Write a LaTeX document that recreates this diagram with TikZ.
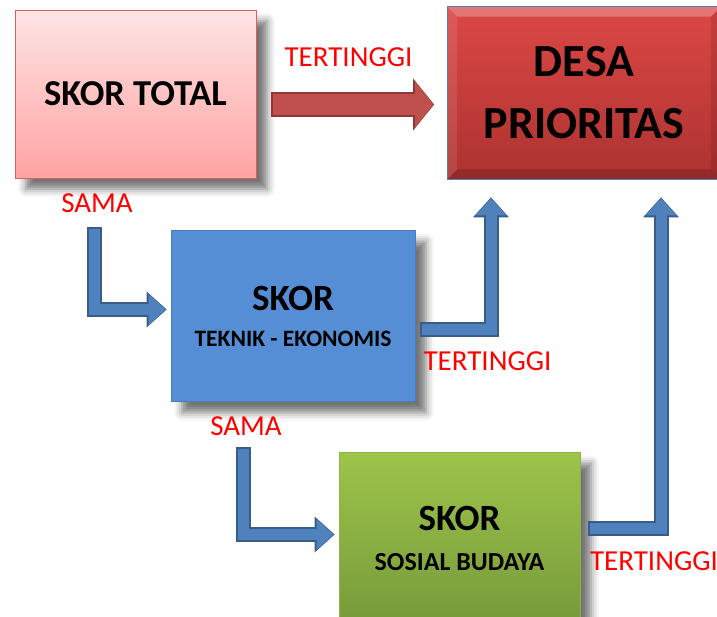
\documentclass[tikz,border=0pt]{standalone}
\usepackage{fontspec}
\setmainfont{Carlito}
\usetikzlibrary{arrows.meta, positioning, calc, shadows.blur}
\definecolor{pinktop}{HTML}{FFE4E4}
\definecolor{pinkbot}{HTML}{FFA3A3}
\definecolor{pinkedge}{HTML}{D9605E}
\definecolor{desatop}{HTML}{DC4846}
\definecolor{desabot}{HTML}{AC3230}
\definecolor{desaedge}{HTML}{4F81BD}
\definecolor{tekfill}{HTML}{558ED5}
\definecolor{tekedge}{HTML}{4A7EBB}
\definecolor{sostop}{HTML}{9DC44A}
\definecolor{sosbot}{HTML}{779A3A}
\definecolor{sosedge}{HTML}{8DB347}
\definecolor{arrowblue}{HTML}{4F81BD}
\definecolor{arrowblueedge}{HTML}{385D8A}
\definecolor{arrowred}{HTML}{C0504D}
\definecolor{arrowrededge}{HTML}{8C3836}
\definecolor{labelred}{HTML}{FF0000}

\begin{document}
\begin{tikzpicture}[
  x=1pt, y=-1pt,
  box/.style={rectangle, inner sep=0pt, align=center, line width=0.8pt},
  shadowed/.style={blur shadow={shadow xshift=11pt, shadow yshift=-11pt,
                   shadow blur radius=8pt, shadow opacity=55}},
  lbl/.style={text=labelred, inner sep=0pt, font=\fontsize{29pt}{32pt}\selectfont},
  bluearrow/.style={draw=arrowblue, line width=11pt,
    -{Triangle[width=31pt, length=17pt, line width=0pt]},
    preaction={draw=arrowblueedge, line width=15pt,
      -{Triangle[width=36pt, length=20pt, line width=0pt]},
      shorten >=-1pt, shorten <=-2pt}},
  redarrow/.style={draw=arrowred, line width=21pt,
    -{Triangle[width=46pt, length=18pt, line width=0pt]},
    preaction={draw=arrowrededge, line width=25pt,
      -{Triangle[width=52pt, length=21pt, line width=0pt]},
      shorten >=-1pt, shorten <=-2pt}},
]
  \clip (0,0) rectangle (717,616);

  % boxes
  \node[box, shadowed, draw=pinkedge, top color=pinktop, bottom color=pinkbot,
        minimum width=241pt, minimum height=168pt,
        font=\bfseries\fontsize{36.5pt}{40pt}\selectfont] (total) at (135.5,94)
        {SKOR TOTAL};
  \node[box, top color=desatop, bottom color=desabot,
        minimum width=273pt, minimum height=172pt,
        font=\bfseries\fontsize{46pt}{62pt}\selectfont] (desa) at (584,93)
        {DESA\\PRIORITAS};
  \node[box, shadowed, draw=tekedge, fill=tekfill,
        minimum width=244pt, minimum height=171pt,
        font=\bfseries\fontsize{23.5pt}{36pt}\selectfont] (teknik) at (293,316)
        {{\fontsize{37pt}{36pt}\selectfont SKOR}\\TEKNIK - EKONOMIS};
  \node[box, shadowed, draw=sosedge, top color=sostop, bottom color=sosbot,
        minimum width=241pt, minimum height=171pt,
        font=\bfseries\fontsize{26pt}{40pt}\selectfont] (sosial) at (459.5,538)
        {{\fontsize{37pt}{40pt}\selectfont SKOR}\\SOSIAL BUDAYA};

  % bevel of the target box
  \fill[white, opacity=0.25] (desa.north west) -- (desa.north east)
    -- ([xshift=-10pt, yshift=-10pt]desa.north east)
    -- ([xshift=10pt, yshift=-10pt]desa.north west) -- cycle;
  \fill[white, opacity=0.10] (desa.north west) -- ([xshift=10pt, yshift=-10pt]desa.north west)
    -- ([xshift=10pt, yshift=10pt]desa.south west) -- (desa.south west) -- cycle;
  \fill[black, opacity=0.15] (desa.south west) -- (desa.south east)
    -- ([xshift=-10pt, yshift=10pt]desa.south east)
    -- ([xshift=10pt, yshift=10pt]desa.south west) -- cycle;
  \fill[black, opacity=0.10] (desa.north east) -- ([xshift=-10pt, yshift=-10pt]desa.north east)
    -- ([xshift=-10pt, yshift=10pt]desa.south east) -- (desa.south east) -- cycle;
  \draw[desaedge, line width=1.2pt] (desa.north west) rectangle (desa.south east);

  % arrow ends
  \coordinate (r0) at ([xshift=17pt, yshift=-10.5pt]total.east);
  \coordinate (r1) at ($(desa.west |- r0)+(-14,0)$);
  \coordinate (a0) at ([xshift=-41pt, yshift=-51pt]total.south);
  \coordinate (a1) at ([xshift=-5pt, yshift=6.5pt]teknik.west);
  \coordinate (b0) at ([xshift=7pt, yshift=-13pt]teknik.east);
  \coordinate (b1) at ([xshift=-93pt, yshift=-19pt]desa.south);
  \coordinate (c0) at ([xshift=-49.5pt, yshift=-47.5pt]teknik.south);
  \coordinate (c1) at ([xshift=-5pt, yshift=3.5pt]sosial.west);
  \coordinate (d0) at ([xshift=10pt, yshift=10pt]sosial.east);
  \coordinate (d1) at ([xshift=77pt, yshift=-19pt]desa.south);

  % connectors
  \draw[redarrow] (r0) -- (r1);
  \draw[bluearrow] (a0) |- (a1);
  \draw[bluearrow] (b0) -| (b1);
  \draw[bluearrow] (c0) |- (c1);
  \draw[bluearrow] (d0) -| (d1);

  % labels
  \node[lbl] (top) at (348.5,57) {TERTINGGI};
  \node[lbl] (sama1) at (97,203) {SAMA};
  \node[lbl] (tinggi1) at (487.5,361) {TERTINGGI};
  \node[lbl] (sama2) at (246,426) {SAMA};
  \node[lbl] (tinggi2) at (654,561) {TERTINGGI};
\end{tikzpicture}
\end{document}
